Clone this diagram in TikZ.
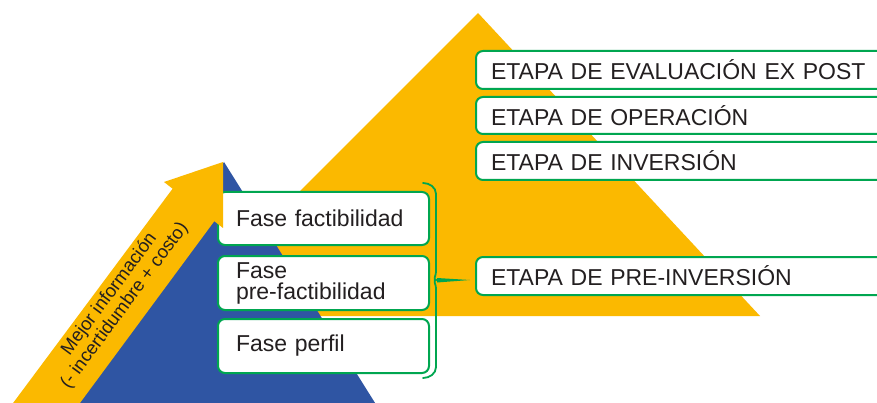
\documentclass[tikz,border=0pt]{standalone}
\usepackage{fontspec}
\setmainfont{Liberation Sans}
\definecolor{ocre}{HTML}{FBB900}
\definecolor{azul}{HTML}{2F55A3}
\definecolor{verde}{HTML}{00A650}
\definecolor{tinta}{HTML}{231F20}
\begin{document}
\begin{tikzpicture}[x=1pt,y=-1pt,
  etapa/.style={draw=verde, line width=2pt, fill=white, rounded corners=7pt,
    anchor=north west, inner xsep=15pt, inner ysep=0pt, text width=395pt, align=left,
    minimum height=38pt, text=tinta, font=\fontsize{23}{21}\selectfont},
  fase/.style={draw=verde, line width=2pt, fill=white, rounded corners=7pt,
    anchor=north west, inner xsep=18pt, inner ysep=0pt, text width=175pt, align=left,
    minimum height=54pt, text=tinta, font=\fontsize{23}{21}\selectfont},
  bracestyle/.style={draw=verde, line width=1.8pt}]
\useasboundingbox (0,0) rectangle (877,403);
\clip (0,0) rectangle (877,403);
\fill[white] (0,0) rectangle (877,403);
% big yellow triangle
\fill[ocre] (478,13) -- (760,316) -- (175,316) -- cycle;
% blue triangle
\fill[azul] (224,162) -- (392,430) -- (56,430) -- cycle;
% right boxes
\node[etapa] (expost) at (475,50) {ETAPA DE EVALUACIÓN EX POST};
\node[etapa, minimum height=37pt] (oper) at (475,96) {ETAPA DE OPERACIÓN};
\node[etapa] (inv) at (475,141) {ETAPA DE INVERSIÓN};
\node[etapa] (preinv) at (475,256) {ETAPA DE PRE-INVERSIÓN};
% left boxes
\node[fase, minimum height=53pt] (fact) at (217,191) {Fase factibilidad};
\node[fase] (prefact) at (217,255) {Fase\\pre-factibilidad};
\node[fase] (perfil) at (217,318) {Fase perfil};
% brace
\coordinate (btop) at (423,183);
\coordinate (bbot) at (423,378);
\coordinate (bmid) at (436,280);
\coordinate (btip) at (470,280);
\draw[bracestyle, line cap=round] (btop) to[out=0,in=90] (436,194) -- (436,272)
  to[out=-90,in=180] (bmid) to[out=180,in=90] (436,288) -- (436,367) to[out=-90,in=0] (bbot);
\fill[verde] (437,278) -- (btip) -- (437,282.5) -- cycle;
% arrow
\fill[ocre] (-7,430) -- (172.6,188.7) -- (164,182) -- (223,162) -- (223,228)
  -- (214.3,221.2) -- (60,430) -- cycle;
\node[rotate=53.5, align=center, text=tinta, font=\fontsize{18.5}{19}\selectfont]
  (info) at (117,300) {Mejor información\\(- incertidumbre + costo)};
\end{tikzpicture}
\end{document}
